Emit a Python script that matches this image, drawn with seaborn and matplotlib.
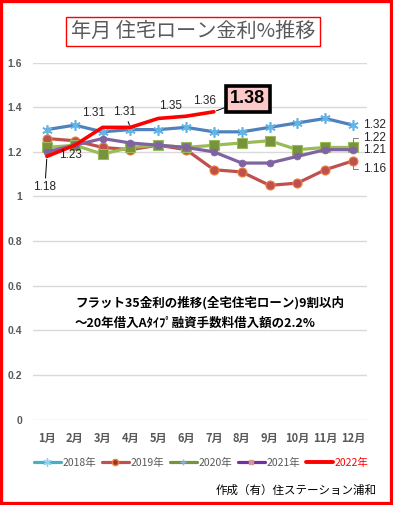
import matplotlib
matplotlib.use("Agg")
import matplotlib.pyplot as plt
import seaborn as sns
import numpy as np
import pandas as pd
from matplotlib.lines import Line2D
from matplotlib.patches import Rectangle

# ---- data ----
months = list(range(1, 13))
month_labels = ["1月", "2月", "3月", "4月", "5月", "6月", "7月", "8月", "9月", "10月", "11月", "12月"]
rate_2018 = [1.30, 1.32, 1.29, 1.30, 1.30, 1.31, 1.29, 1.29, 1.31, 1.33, 1.35, 1.32]
rate_2019 = [1.26, 1.25, 1.22, 1.21, 1.23, 1.21, 1.12, 1.11, 1.05, 1.06, 1.12, 1.16]
rate_2020 = [1.22, 1.23, 1.19, 1.22, 1.23, 1.22, 1.23, 1.24, 1.25, 1.21, 1.22, 1.22]
rate_2021 = [1.20, 1.23, 1.26, 1.24, 1.23, 1.22, 1.20, 1.15, 1.15, 1.18, 1.21, 1.21]
rate_2022 = [1.18, 1.23, 1.31, 1.31, 1.35, 1.36, 1.38]
year_labels = ["2018年", "2019年", "2020年", "2021年", "2022年"]
ytick_labels = ["0", "0.2", "0.4", "0.6", "0.8", "1", "1.2", "1.4", "1.6"]
title = "年月 住宅ローン金利%推移"
note1 = "フラット35金利の推移(全宅住宅ローン)9割以内"
note2 = "～20年借入Aﾀｲﾌﾟ融資手数料借入額の2.2%"
credit = "作成（有）住ステーション浦和"

sns.set_style("white")
plt.rcParams["font.family"] = ["Noto Sans CJK JP", "DejaVu Sans"]

W, H = 393, 505
fig = plt.figure(figsize=(W / 100, H / 100), dpi=100)
ax = fig.add_axes([33 / W, 1 - 419.5 / H, 334 / W, (419.5 - 62.7) / H])

GRAY = "#595959"

series = [
    (rate_2018, dict(color="#4F81BD", marker=(6, 2, 0), markersize=7.5, markeredgecolor="#62B5E5",
                     markerfacecolor="#62B5E5", markeredgewidth=1.2)),
    (rate_2019, dict(color="#C0504D", marker="o", markersize=6.5, markeredgecolor="#E8843F",
                     markerfacecolor="#C0504D", markeredgewidth=0.8)),
    (rate_2020, dict(color="#9BBB59", marker="s", markersize=6.5, markeredgecolor="#9BBB59",
                     markerfacecolor="#77933C", markeredgewidth=0.8)),
    (rate_2021, dict(color="#8064A2", marker="o", markersize=5, markeredgecolor="#8064A2",
                     markerfacecolor="#8064A2", markeredgewidth=0.5)),
]
for vals, st in series:
    df = pd.DataFrame({"month": months[:len(vals)], "rate": vals})
    sns.lineplot(data=df, x="month", y="rate", ax=ax, linewidth=2.3, legend=False, **st)

df22 = pd.DataFrame({"month": months[:len(rate_2022)], "rate": rate_2022})
sns.lineplot(data=df22, x="month", y="rate", ax=ax, color="#FF0000", linewidth=2.6, legend=False)

ax.set_xlim(0.5, 12.5)
ax.set_ylim(0, 1.6)
ax.set_xticks(months)
ax.set_xticklabels(month_labels, fontsize=8, fontweight="bold", color=GRAY)
ax.set_yticks(np.linspace(0, 1.6, 9))
ax.set_yticklabels(ytick_labels, fontsize=7.5, fontweight="bold", color=GRAY,
                   family=["Liberation Sans", "DejaVu Sans"])
ax.tick_params(axis="both", length=0)
ax.tick_params(axis="y", pad=8)
ax.tick_params(axis="x", pad=9)
ax.set_xlabel("")
ax.set_ylabel("")
ax.yaxis.grid(True, color="#D9D9D9", linewidth=1)
ax.xaxis.grid(False)
for s in ax.spines.values():
    s.set_visible(False)
ax.set_axisbelow(True)

# ---- data labels ----
lab_font = dict(fontsize=8.5, family=["Liberation Sans", "DejaVu Sans"], color="#262626")
lead = dict(arrowstyle="-", color="black", lw=0.7, shrinkA=0, shrinkB=2)
offsets_2022 = [(-2, -31), (-4, -10), (-9, 14), (-6, 15), (12, 12), (18, 15)]
for i, (dx, dy) in enumerate(offsets_2022):
    kw = dict(arrowprops=lead) if i in (0, 3) else {}
    ax.annotate(f"{rate_2022[i]:.2f}", (months[i], rate_2022[i]), xytext=(dx, dy),
                textcoords="offset pixels", ha="center", va="center", **lab_font, **kw)

last = len(rate_2022) - 1
ax.annotate(f"{rate_2022[last]:.2f}", (months[last], rate_2022[last]), xytext=(34, 13),
            textcoords="offset pixels", ha="center", va="center", fontsize=13, fontweight="bold",
            family=["Liberation Sans", "DejaVu Sans"], color="black",
            bbox=dict(boxstyle="square,pad=0.26", fc="#FCC8C8", ec="black", lw=2.6),
            arrowprops=dict(arrowstyle="-", color="black", lw=0.7, shrinkA=0, shrinkB=2))

end_offsets = [(rate_2018, (10, 0)), (rate_2020, (10, 9.5)), (rate_2021, (10, -0.5)), (rate_2019, (10, -8.5))]
for vals, (dx, dy) in end_offsets:
    kw = {}
    if abs(dy) > 1:
        kw = dict(arrowprops=dict(arrowstyle="-", color="#7F7F7F", lw=0.7, shrinkA=1, shrinkB=4,
                                  connectionstyle="angle,angleA=0,angleB=90,rad=0"))
    ax.annotate(f"{vals[-1]:.2f}", (months[-1], vals[-1]), xytext=(dx, dy),
                textcoords="offset pixels", ha="left", va="center", **lab_font, **kw)

# ---- legend ----
handles = [
    Line2D([], [], color="#4BACC6", lw=2.3, marker=(6, 2, 0), markersize=6, markeredgecolor="#8DD0F0"),
    Line2D([], [], color="#C0504D", lw=2.3, marker="o", markersize=4.5, markerfacecolor="#A0322E",
           markeredgecolor="#E8843F"),
    Line2D([], [], color="#77933C", lw=2.3, marker="+", markersize=5, markeredgecolor="#8DB4E2"),
    Line2D([], [], color="#7030A0", lw=2.3, marker="s", markersize=2.5, markerfacecolor="#D99594",
           markeredgecolor="#D99594"),
    Line2D([], [], color="#FF0000", lw=2.8),
]
leg = fig.legend(handles, year_labels, ncol=5, loc="center", bbox_to_anchor=(201 / W, 1 - 462.7 / H),
                 frameon=False, fontsize=7.5, handlelength=2.6, handletextpad=0.15, columnspacing=0.55,
                 borderaxespad=0, borderpad=0)
for t in leg.get_texts():
    t.set_color(GRAY)
leg.get_texts()[-1].set_color("#FF0000")

# ---- texts ----
fig.text(193 / W, 1 - 31.5 / H, title, ha="center", va="center", fontsize=14.5, color=GRAY,
         bbox=dict(boxstyle="square,pad=0.22", fc="white", ec="#FF0000", lw=1))
fig.text(75 / W, 1 - 303 / H, note1, ha="left", va="center", fontsize=9, fontweight="bold", color="black")
fig.text(75 / W, 1 - 323 / H, note2, ha="left", va="center", fontsize=9, fontweight="bold", color="black")
fig.text(377 / W, 1 - 490 / H, credit, ha="right", va="center", fontsize=8.3, color="black")

fig.patches.append(Rectangle((0, 0), 1, 1, transform=fig.transFigure, fill=False, ec="#FF0000", lw=4.5))

fig.savefig("out.png", dpi=100, facecolor="white")
